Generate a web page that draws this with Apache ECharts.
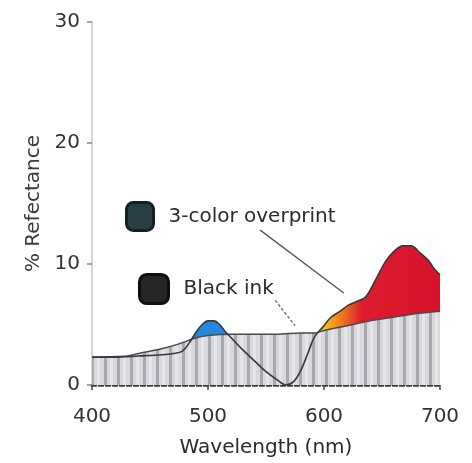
<!DOCTYPE html>
<html>
<head>
<meta charset="utf-8">
<script src="https://cdn.jsdelivr.net/npm/echarts@6/dist/echarts.min.js"></script>
<style>html,body{margin:0;padding:0;background:#fff}#c{width:472px;height:463px}</style>
</head>
<body>
<div id="c"></div>
<script>
// ---- data ----
const blackWl  = [400, 430, 445, 460, 475, 490, 500, 520, 540, 560, 580, 592, 600, 620, 640, 660, 680, 700];
const blackVal = [2.3, 2.4, 2.7, 3.0, 3.4, 3.9, 4.1, 4.2, 4.2, 4.2, 4.3, 4.3, 4.5, 4.9, 5.3, 5.6, 5.9, 6.1];

const overWl  = [400, 420, 440, 460, 470, 478, 484, 490, 495, 500, 505, 510, 515, 520, 530, 540, 550, 560, 567, 574, 580, 586, 592, 600, 606, 614, 621, 628, 636, 644, 653, 661, 668, 675, 683, 690, 695, 700];
const overVal = [2.3, 2.3, 2.4, 2.5, 2.6, 2.8, 3.5, 4.4, 5.0, 5.3, 5.3, 5.0, 4.4, 3.9, 2.9, 2.0, 1.1, 0.4, 0.0, 0.3, 1.2, 2.6, 4.0, 4.9, 5.6, 6.1, 6.6, 6.9, 7.3, 8.6, 10.2, 11.1, 11.5, 11.5, 10.9, 10.3, 9.6, 9.1];

const yTicks = [0, 10, 20, 30];
const xTicks = [400, 500, 600, 700];

const seriesNames = ['3-color overprint', 'Black ink'];
const xName = 'Wavelength (nm)';
const yName = '% Refectance';

// leader lines (data space) from labels to curves
const leader1 = [[545, 12.8], [617, 7.6]];
const leader2 = [[558, 7.0], [575, 4.9]];

const pair = (xs, ys) => xs.map((x, i) => [x, ys[i]]);
const blackData = pair(blackWl, blackVal);
const overData = pair(overWl, overVal);

// hatched gray pattern
const pc = document.createElement('canvas');
pc.width = 13; pc.height = 8;
const pctx = pc.getContext('2d');
pctx.fillStyle = '#d8d8dd'; pctx.fillRect(0, 0, 13, 8);
pctx.fillStyle = '#e6e6ea'; pctx.fillRect(6, 0, 3, 8);
pctx.fillStyle = '#a8a8b2'; pctx.fillRect(0, 0, 3, 8);

const FONT = 'DejaVu Sans';
const chart = echarts.init(document.getElementById('c'), null, {renderer: 'canvas'});
chart.setOption({
  animation: false,
  backgroundColor: '#fff',
  grid: {left: 92, right: 32, top: 22, bottom: 75},
  legend: [
    {
      left: 125, top: 201, orient: 'vertical', padding: 0,
      icon: 'roundRect', itemWidth: 27, itemHeight: 28,
      selectedMode: false,
      data: [{name: seriesNames[0], itemStyle: {color: '#2a3f44', borderColor: '#142124', borderWidth: 3}}],
      textStyle: {fontFamily: FONT, fontSize: 20, color: '#2a2a2a', padding: [0, 0, 0, 10]}
    },
    {
      left: 138, top: 273, orient: 'vertical', padding: 0,
      icon: 'roundRect', itemWidth: 29, itemHeight: 29,
      selectedMode: false,
      data: [{name: seriesNames[1], itemStyle: {color: '#262626', borderColor: '#0e0e0e', borderWidth: 3}}],
      textStyle: {fontFamily: FONT, fontSize: 20, color: '#2a2a2a', padding: [0, 0, 0, 10]}
    }
  ],
  xAxis: {
    type: 'value', min: 400, max: 700, interval: 100,
    name: xName, nameLocation: 'middle', nameGap: 53,
    nameTextStyle: {fontFamily: FONT, fontSize: 20, color: '#2a2a2a'},
    axisLine: {show: true, lineStyle: {color: '#3a3a3a', width: 2.5, type: [4, 3]}},
    axisTick: {show: true, length: 5, lineStyle: {color: '#444', width: 1.5}},
    axisLabel: {fontFamily: FONT, fontSize: 20, color: '#333', margin: 22,
      formatter: v => xTicks.includes(v) ? String(v) : ''},
    splitLine: {show: false}
  },
  yAxis: {
    type: 'value', min: 0, max: 30, interval: 10,
    name: yName, nameLocation: 'middle', nameGap: 48,
    nameTextStyle: {fontFamily: FONT, fontSize: 20, color: '#3a3a3a'},
    axisLine: {show: true, lineStyle: {color: '#cacaca', width: 1.5}},
    axisTick: {show: true, length: 5, lineStyle: {color: '#888', width: 1.5}},
    axisLabel: {fontFamily: FONT, fontSize: 20, color: '#333', margin: 12,
      formatter: v => yTicks.includes(v) ? String(v) : ''},
    splitLine: {show: false}
  },
  series: [
    {
      name: 'overprint fill', type: 'line', data: overData, smooth: 0.35,
      symbol: 'none', z: 2, silent: true,
      lineStyle: {width: 0},
      areaStyle: {
        opacity: 1,
        color: new echarts.graphic.LinearGradient(0, 0, 1, 0, [
          {offset: 0, color: '#2488dc'},
          {offset: 0.45, color: '#2488dc'},
          {offset: 0.47, color: '#f6c41c'},
          {offset: 0.665, color: '#f6c41c'},
          {offset: 0.72, color: '#f0741f'},
          {offset: 0.775, color: '#dc1c2e'},
          {offset: 1, color: '#d8132c'}
        ])
      }
    },
    {
      name: seriesNames[1], type: 'line', data: blackData, smooth: 0.2,
      symbol: 'none', z: 3, silent: true,
      itemStyle: {color: '#262626'},
      lineStyle: {color: '#4a4a4a', width: 1.5},
      areaStyle: {opacity: 1, color: {image: pc, repeat: 'repeat'}}
    },
    {
      name: seriesNames[0], type: 'line', data: overData, smooth: 0.35,
      symbol: 'none', z: 4, silent: true,
      itemStyle: {color: '#2a3f44'},
      lineStyle: {color: '#383838', width: 1.6},
      markLine: {
        silent: true, symbol: 'none', label: {show: false},
        data: [
          [{coord: leader1[0], lineStyle: {color: '#555', width: 1.3, type: 'solid'}}, {coord: leader1[1]}],
          [{coord: leader2[0], lineStyle: {color: '#666', width: 1.3, type: [3, 2]}}, {coord: leader2[1]}]
        ]
      }
    }
  ]
});
</script>
</body>
</html>
